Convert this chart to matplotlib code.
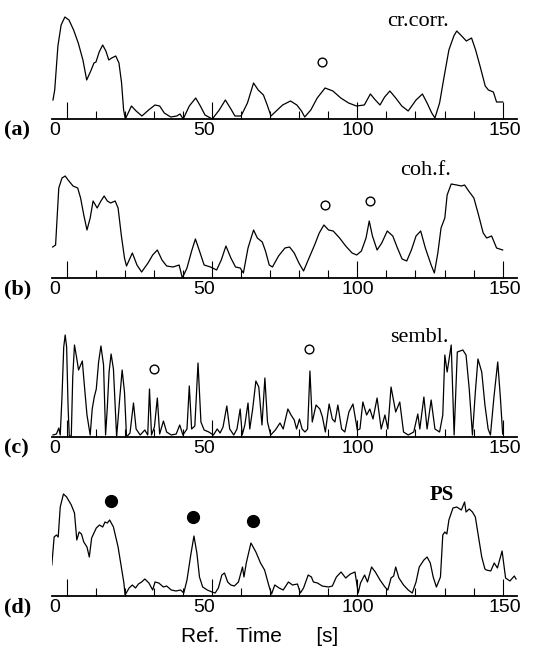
import matplotlib
matplotlib.use("Agg")
import matplotlib.pyplot as plt
from matplotlib import font_manager as fm
import numpy as np

# ---------------- data (time [s], amplitude) ----------------
cr_corr = [(-4.7,19),(-4.1,29),(-3.0,73),(-1.9,94),(-0.6,102),(0.8,99),(2.4,89),(4.0,76),(5.6,59),(6.9,39),
           (8.3,48),(9.4,56),(10.1,57),(11.2,67),(12.4,74),(13.5,68),(14.5,59),(15.5,61),(16.9,63),(18.0,56),
           (18.9,36),(19.6,9),(20.2,0),(22.3,13),(23.9,8),(25.9,3),(28.2,9),(30.4,14),(32.0,13),(33.6,6),
           (35.8,2),(37.9,3),(39.0,5),(40.1,0),(42.2,13),(44.4,21),(46.0,13),(47.6,4),(50.1,0),(52.5,9),
           (54.6,19),(56.3,11),(57.9,3),(60.0,3),(62.2,16),(64.3,36),(65.9,29),(67.7,24),(69.0,14),(70.3,3),
           (72.1,8),(74.3,14),(77.0,18),(79.2,14),(80.8,8),(81.9,2),(84.0,9),(86.2,21),(88.9,31),(91.6,28),
           (94.3,21),(97.0,16),(99.7,13),(102.4,14),(104.5,25),(106.2,19),(107.8,14),(109.4,22),(111.2,28),
           (113.2,21),(115.3,13),(117.5,8),(120.2,19),(122.4,25),(124.0,16),(125.6,6),(126.7,1),(128.3,16),
           (129.9,43),(131.5,69),(133.2,83),(134.2,88),(135.9,83),(137.5,78),(139.3,81),(140.7,69),(142.3,52),
           (144.0,33),(145.1,29),(146.8,27),(147.9,17),(150.0,17)]

coh_f = [(-4.8,31),(-3.8,33),(-2.7,90),(-1.6,100),(-0.5,102),(0.5,98),(2.2,92),(3.8,90),(4.8,80),(5.9,63),
         (7.0,48),(8.1,60),(9.1,77),(10.5,70),(11.8,77),(12.9,82),(14.0,77),(15.1,75),(16.7,77),(17.7,70),
         (18.8,43),(19.9,20),(20.6,12),(22.6,25),(24.2,13),(25.8,6),(28.0,15),(29.6,23),(31.2,28),(32.8,18),
         (34.4,12),(36.6,11),(38.7,13),(39.8,0),(41.4,10),(43.0,27),(44.3,39),(45.7,27),(47.3,13),(49.5,11),
         (51.6,8),(53.2,18),(54.8,32),(56.5,20),(58.1,11),(59.7,10),(60.8,5),(62.4,30),(64.3,48),(65.6,40),
         (67.3,36),(68.4,27),(69.7,13),(70.8,11),(72.9,22),(75.1,30),(76.7,31),(78.3,25),(79.9,15),(81.5,7),
         (83.1,18),(85.3,33),(86.9,45),(88.5,53),(90.1,48),(91.7,47),(93.9,40),(96.0,32),(98.2,25),(99.8,23),
         (101.4,27),(103.0,40),(104.1,57),(105.2,42),(106.8,28),(108.4,35),(110.3,47),(112.2,42),(113.8,30),
         (115.4,19),(117.0,17),(118.6,28),(120.2,42),(121.8,47),(123.4,30),(125.4,13),(126.5,5),(127.7,25),
         (128.8,50),(130.1,60),(130.9,83),(132.3,94),(134.2,93),(135.8,92),(136.9,93),(138.3,87),(140.1,80),
         (141.7,63),(143.3,45),(144.5,40),(146.2,42),(147.9,30),(150.0,28)]

sembl = [(-4.7,2),(-3.5,3),(-2.7,9),(-2.2,2),(-1.6,40),(-1.0,90),(-0.5,102),(0.0,90),(0.5,30),(0.9,1),
         (1.6,1),(2.1,60),(2.7,92),(3.4,80),(4.1,67),(4.8,72),(5.4,76),(6.0,55),(7.0,22),(8.1,2),(8.8,28),
         (9.5,40),(10.2,48),(11.0,75),(11.8,91),(12.7,72),(13.4,2),(14.0,30),(14.6,65),(15.3,83),(16.1,68),
         (16.8,25),(17.2,0),(18.3,40),(19.1,67),(19.9,45),(20.6,0),(21.8,4),(23.0,34),(23.9,8),(25.3,2),
         (26.9,7),(27.9,2),(28.5,48),(29.2,2),(30.2,10),(31.2,39),(32.0,3),(33.3,16),(34.4,5),(36.0,2),
         (37.7,3),(38.9,12),(40.0,2),(41.4,8),(42.2,51),(43.0,8),(44.1,11),(45.2,74),(46.2,15),(47.3,7),
         (48.9,5),(50.5,2),(51.8,8),(52.8,4),(53.8,10),(55.1,31),(56.1,8),(57.5,2),(58.6,8),(59.7,28),
         (60.4,2),(61.3,12),(62.4,34),(63.0,8),(64.0,28),(65.1,56),(66.1,50),(67.2,12),(68.2,59),(69.1,15),
         (70.2,2),(71.8,7),(73.4,14),(74.5,8),(76.1,28),(77.2,22),(78.3,17),(79.1,8),(80.1,18),(81.0,8),
         (82.0,5),(82.9,8),(83.7,66),(84.5,15),(85.8,32),(87.1,28),(88.0,20),(89.0,5),(90.3,33),(91.4,18),
         (92.3,15),(93.3,32),(94.6,8),(95.7,5),(97.1,25),(98.5,33),(100.0,7),(100.9,8),(101.9,35),(103.2,22),
         (104.3,28),(105.4,18),(106.8,39),(108.2,8),(109.5,22),(110.5,8),(111.6,50),(113.2,25),(114.6,35),
         (115.9,5),(117.5,2),(119.4,5),(120.8,23),(121.5,8),(122.9,40),(124.0,8),(125.4,37),(126.7,8),
         (128.3,5),(129.4,22),(130.1,82),(130.9,65),(132.3,92),(133.3,2),(134.4,85),(136.3,87),(137.4,82),
         (138.5,48),(139.6,2),(140.6,45),(141.5,78),(142.8,65),(143.9,32),(145.0,8),(145.8,2),(147.0,40),
         (148.3,75),(149.2,40),(150.0,3)]

ps = [(-5.1,31),(-4.3,59),(-3.5,61),(-2.9,59),(-2.2,89),(-1.1,102),(0.0,99),(1.6,91),(2.7,83),(3.5,56),
      (4.3,64),(5.1,62),(5.9,54),(7.0,49),(7.8,39),(8.6,58),(9.4,63),(10.2,68),(11.3,71),(12.4,69),(13.2,74),
      (14.0,73),(14.8,76),(16.1,69),(17.7,49),(18.8,29),(19.7,13),(20.1,1),(21.5,8),(22.6,11),(23.7,8),
      (24.7,12),(25.8,14),(26.9,17),(28.3,13),(29.6,6),(30.4,14),(31.7,13),(33.3,9),(34.4,10),(36.0,6),
      (37.6,5),(39.2,6),(40.3,3),(41.4,16),(42.7,41),(43.8,60),(44.8,43),(45.7,19),(46.8,9),(48.4,6),
      (50.0,4),(51.1,3),(52.2,8),(53.4,21),(54.3,23),(55.4,14),(56.5,11),(57.7,10),(59.1,14),(60.5,29),
      (61.0,19),(61.8,33),(63.4,53),(65.1,44),(66.7,33),(68.1,26),(69.7,9),(70.5,2),(71.6,11),(73.1,8),
      (74.5,6),(76.3,14),(77.7,11),(79.4,12),(80.4,3),(81.5,8),(83.1,21),(84.2,19),(84.9,14),(86.3,13),
      (87.9,10),(90.1,9),(91.4,10),(92.8,19),(94.4,24),(96.0,18),(97.6,22),(99.2,24),(100.3,3),(101.1,13),
      (102.5,21),(103.5,14),(104.9,29),(106.2,24),(107.8,16),(109.5,9),(110.5,6),(111.6,18),(112.5,20),
      (113.2,29),(114.3,18),(115.9,11),(117.5,6),(118.9,3),(120.2,14),(121.3,29),(122.9,36),(124.0,39),
      (125.1,33),(126.1,19),(127.2,9),(128.6,19),(129.4,61),(130.1,64),(130.8,62),(131.5,76),(132.9,88),
      (134.2,89),(135.8,86),(136.9,94),(137.4,84),(138.5,87),(139.6,84),(140.6,79),(141.7,59),(142.8,39),
      (143.9,27),(144.4,26),(145.9,25),(147.1,33),(148.2,28),(149.8,45),(151.0,18),(152.5,15),(154.0,20),
      (154.6,17)]

open_marks_a = [(88.0, 57)]
open_marks_b = [(89.0, 73), (104.3, 77)]
open_marks_c = [(30.2, 68), (83.4, 88)]
filled_marks_d = [(15.4, 95), (43.6, 79), (64.1, 75)]

series_names = ["cr.corr.", "coh.f.", "sembl.", "PS"]
name_pos = [(121.0, 97), (123.5, 108), (121.5, 100), (129.0, 101)]
panel_letters = ["(a)", "(b)", "(c)", "(d)"]
tick_label_text = ["0", "50", "100", "150"]
tick_label_pos = [-4.2, 47.3, 100.2, 150.8]
xlabel = "Ref.   Time      [s]"


def first_available(names, default):
    for n in names:
        try:
            fm.findfont(fm.FontProperties(family=n), fallback_to_default=False)
            return n
        except Exception:
            continue
    return default


sans = first_available(["Liberation Sans", "DejaVu Sans"], "sans-serif")
serif = first_available(["Liberation Serif", "DejaVu Serif"], "serif")

# ---------------- layout ----------------
W, H = 556, 660
fig = plt.figure(figsize=(W / 100, H / 100), dpi=100)
fig.patch.set_facecolor("white")

baselines_px = [119, 278, 437, 596]
left_px, right_px = 52.1, 517.2
ax_h_px = 112

curves = [cr_corr, coh_f, sembl, ps]
markers = [(open_marks_a, False), (open_marks_b, False), (open_marks_c, False), (filled_marks_d, True)]

for i, base in enumerate(baselines_px):
    ax = fig.add_axes([left_px / W, (H - base) / H, (right_px - left_px) / W, ax_h_px / H])
    ax.set_facecolor("none")
    t, h = zip(*curves[i])
    ax.plot(t, h, color="black", lw=0.9, solid_joinstyle="round")
    mk, filled = markers[i]
    if mk:
        mx, my = zip(*mk)
        if filled:
            ax.plot(mx, my, "o", ms=8.5, color="black", mec="black", ls="none")
        else:
            ax.plot(mx, my, "o", ms=6.3, mfc="white", mec="black", mew=1.0, ls="none")
    ax.set_xlim(-5, 155)
    ax.set_ylim(0, ax_h_px)
    for s in ["top", "right", "left"]:
        ax.spines[s].set_visible(False)
    ax.spines["bottom"].set_linewidth(1.3)
    ax.set_yticks([])
    ax.set_xticks([0, 50, 100, 150])
    ax.set_xticklabels([])
    ax.set_xticks(np.arange(0, 151, 10), minor=True)
    ax.tick_params(which="major", direction="in", length=12.0, width=0.8)
    ax.tick_params(which="minor", direction="in", length=5.5, width=0.8)
    for lbl, x in zip(tick_label_text, tick_label_pos):
        ax.annotate(lbl, xy=(x, 0), xycoords=("data", "axes fraction"), xytext=(0, -2.5),
                    textcoords="offset points", ha="center", va="top", fontsize=14, family=sans)
    nx, ny = name_pos[i]
    is_ps = series_names[i] == "PS"
    ax.text(nx, ny, series_names[i], ha="center", va="center", fontsize=15 if is_ps else 16,
            family=serif, fontweight="bold" if is_ps else "normal")
    fig.text(4 / W, (H - base - 11.5) / H, panel_letters[i], ha="left", va="center",
             fontsize=16, family=serif, fontweight="bold")

fig.text(260 / W, (H - 636) / H, xlabel, ha="center", va="center", fontsize=15, family=sans)

fig.savefig("out.png", dpi=100, facecolor="white")
